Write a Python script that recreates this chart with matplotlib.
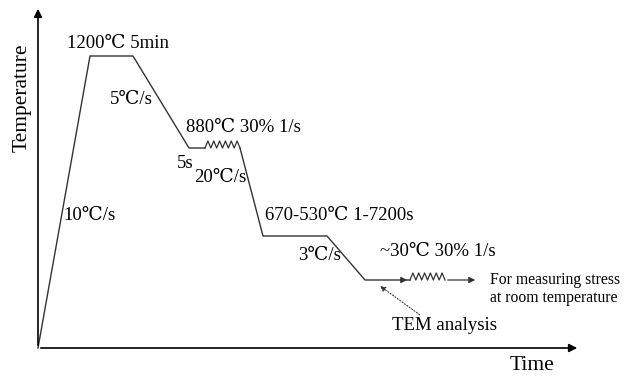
import numpy as np
import matplotlib.pyplot as plt

# schematic heat-treatment path (time units, temperature units)
seg1_t = [0, 52, 95, 151, 167]
seg1_T = [0, 292, 292, 200, 200]
spring1 = (167, 202, 200)
seg2_t = [202, 225, 289, 327, 372]
seg2_T = [200, 112, 112, 68, 68]
spring2 = (372, 407, 68)
tail = (407, 440, 68)

labels = [
    ("1200℃ 5min", 29, 304),
    ("5℃/s", 72, 248),
    ("880℃ 30% 1/s", 148, 221),
    ("5s", 139, 185),
    ("20℃/s", 156, 170),
    ("670-530℃ 1-7200s", 227, 133),
    ("10℃/s", 25, 133),
    ("3℃/s", 260, 93),
    ("~30℃ 30% 1/s", 342, 96),
]

fam = ['Liberation Serif', 'DejaVu Serif']
fig = plt.figure(figsize=(6.29, 3.80), dpi=100)
ax = fig.add_axes([0, 0, 1, 1])
ax.set_xlim(-38, 591)
ax.set_ylim(-32, 348)
ax.axis('off')

lc = '#333333'
ax.plot(seg1_t, seg1_T, color=lc, lw=1.0)
ax.plot(seg2_t, seg2_T, color=lc, lw=1.0)


def spring(t0, t1, base, n=6, amp=7):
    xs = np.linspace(t0, t1, 2 * n + 1)
    ys = np.full_like(xs, base, dtype=float)
    ys[1::2] += amp
    ax.plot(xs, ys, color=lc, lw=0.9)


spring(*spring1)
ax.plot([spring1[1], seg2_t[0]], [spring1[2], seg2_T[0]], color=lc, lw=1.0)
spring(*spring2)
# arrow into second spring and tail arrow
ax.annotate('', xy=(spring2[0], spring2[2]), xytext=(spring2[0] - 12, spring2[2]),
            arrowprops=dict(arrowstyle='-|>', color=lc, lw=0.9, mutation_scale=9))
ax.annotate('', xy=(tail[1], tail[2]), xytext=(tail[0], tail[2]),
            arrowprops=dict(arrowstyle='-|>', color=lc, lw=0.9, mutation_scale=9))

# axes with arrows
ax.annotate('', xy=(0, 342), xytext=(0, 0),
            arrowprops=dict(arrowstyle='-|>', color='black', lw=1.2, mutation_scale=12))
ax.annotate('', xy=(542, 0), xytext=(0, 0),
            arrowprops=dict(arrowstyle='-|>', color='black', lw=1.2, mutation_scale=12))

for s, x, y in labels:
    ax.text(x, y, s, family=fam, fontsize=13.5, va='center', ha='left')

ax.text(452, 68, "For measuring stress", family=fam, fontsize=11.3, va='center')
ax.text(452, 50, "at room temperature", family=fam, fontsize=11.3, va='center')

ax.annotate("TEM analysis", xy=(342, 62), xytext=(354, 22), family=fam, fontsize=13.5,
            va='center', ha='left',
            arrowprops=dict(arrowstyle='-|>', color=lc, lw=0.8, ls=':', mutation_scale=8,
                            shrinkA=0, shrinkB=0, relpos=(0.3, 1.0)))

ax.text(-16, 250, "Temperature", family=fam, fontsize=15.5, rotation=90, va='center', ha='center')
ax.text(494, -18, "Time", family=fam, fontsize=15.5, va='center', ha='center')

fig.savefig('out.png', dpi=100)
